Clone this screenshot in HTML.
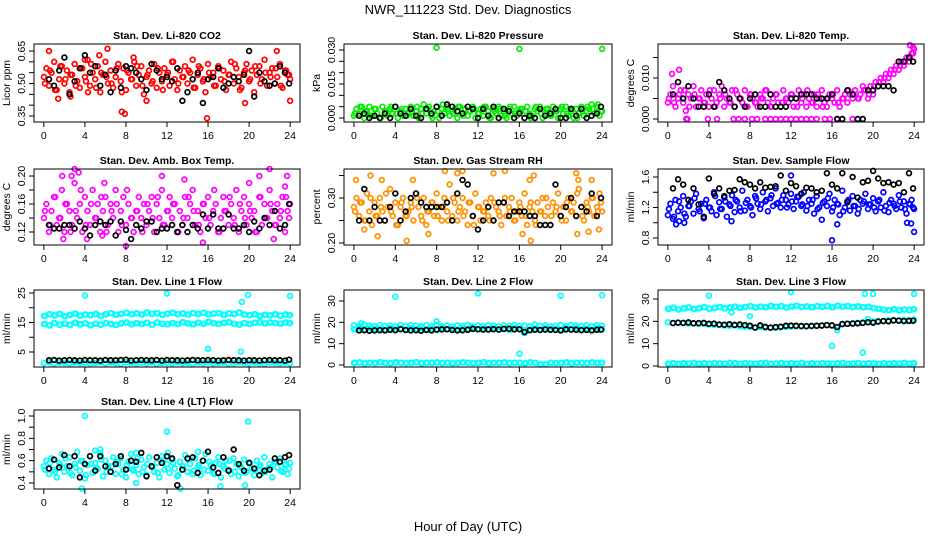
<!DOCTYPE html>
<html><head><meta charset="utf-8"><style>
body{margin:0;background:#fff}
svg{display:block;font-family:"Liberation Sans",sans-serif}
</style></head><body>
<svg id="chart" width="936" height="540" viewBox="0 0 936 540">
<rect width="936" height="540" fill="#fff"/>
<text x="468" y="14" text-anchor="middle" font-size="13">NWR_111223  Std. Dev. Diagnostics</text>
<text x="468" y="531" text-anchor="middle" font-size="13">Hour of Day (UTC)</text>
</svg>
<script>
const hoursCloud=[0,0.25,0.5,0.75,1,1.25,1.5,1.75,2,2.25,2.5,2.75,3,3.25,3.5,3.75,4,4.25,4.5,4.75,5,5.25,5.5,5.75,6,6.25,6.5,6.75,7,7.25,7.5,7.75,8,8.25,8.5,8.75,9,9.25,9.5,9.75,10,10.25,10.5,10.75,11,11.25,11.5,11.75,12,12.25,12.5,12.75,13,13.25,13.5,13.75,14,14.25,14.5,14.75,15,15.25,15.5,15.75,16,16.25,16.5,16.75,17,17.25,17.5,17.75,18,18.25,18.5,18.75,19,19.25,19.5,19.75,20,20.25,20.5,20.75,21,21.25,21.5,21.75,22,22.25,22.5,22.75,23,23.25,23.5,23.75,24];
const hoursBand=[0,0.5,1,1.5,2,2.5,3,3.5,4,4.5,5,5.5,6,6.5,7,7.5,8,8.5,9,9.5,10,10.5,11,11.5,12,12.5,13,13.5,14,14.5,15,15.5,16,16.5,17,17.5,18,18.5,19,19.5,20,20.5,21,21.5,22,22.5,23,23.5,24];
const hoursBand2=[0.1,0.6,1.1,1.6,2.1,2.6,3.1,3.6,4.1,4.6,5.1,5.6,6.1,6.6,7.1,7.6,8.1,8.6,9.1,9.6,10.1,10.6,11.1,11.6,12.1,12.6,13.1,13.6,14.1,14.6,15.1,15.6,16.1,16.6,17.1,17.6,18.1,18.6,19.1,19.6,20.1,20.6,21.1,21.6,22.1,22.6,23.1,23.6,23.9];
const hoursBlack=[0.5,1,1.5,2,2.5,3,3.5,4,4.5,5,5.5,6,6.5,7,7.5,8,8.5,9,9.5,10,10.5,11,11.5,12,12.5,13,13.5,14,14.5,15,15.5,16,16.5,17,17.5,18,18.5,19,19.5,20,20.5,21,21.5,22,22.5,23,23.5,23.9];

// Panel 1 CO2
const co2Red=[.53,.57,.49,.55,.60,.47,.52,.58,.50,.56,.46,.54,.59,.51,.48,.57,.53,.61,.49,.55,.52,.58,.46,.54,.60,.50,.56,.48,.53,.59,.51,.57,.47,.55,.52,.62,.49,.54,.58,.45,.53,.56,.50,.59,.48,.55,.51,.57,.54,.49,.60,.52,.47,.56,.53,.58,.50,.55,.61,.48,.54,.57,.51,.46,.59,.53,.55,.49,.58,.52,.56,.47,.54,.60,.50,.57,.53,.48,.55,.59,.51,.56,.46,.54,.58,.52,.61,.49,.55,.57,.50,.53,.59,.48,.56,.54,.52];
const co2Red2=[.50,.56,.47,.58,.52,.54,.49,.57,.51,.59,.48,.55,.53,.50,.57,.46,.56,.52,.58,.49,.54,.51,.57,.47,.55,.60,.50,.53,.56,.48,.58,.52,.55,.49,.57,.51,.54,.59,.47,.56,.52,.58,.50,.55,.53,.57,.49,.56,.54];
const co2OutX=[0.5,4,5.4,6.2,7.6,7.9,8.8,10,15.9,19.6,22.7,24,1.4,2.6,4.3];
const co2OutY=[.65,.61,.63,.66,.37,.36,.60,.42,.34,.41,.65,.42,.43,.44,.46];
const co2Black=[.52,.49,.56,.62,.45,.51,.57,.63,.55,.58,.49,.54,.46,.56,.48,.58,.57,.55,.52,.47,.59,.56,.52,.53,.51,.57,.42,.46,.52,.55,.41,.52,.53,.57,.48,.50,.53,.51,.54,.65,.44,.55,.51,.49,.50,.58,.55,.50];
// Panel 2 pressure
const presGreen=[.001,.004,.002,.005,.000,.003,.005,.001,.004,.002,.000,.005,.003,.001,.004,.002,.005,.000,.003,.001,.004,.002,.005,.001,.003,.000,.004,.006,.002,.005,.001,.003,.005,.000,.004,.002,.005,.001,.003,.004,.000,.005,.002,.004,.001,.003,.005,.000,.002,.004,.001,.005,.003,.000,.004,.002,.005,.001,.003,.000,.004,.002,.005,.001,.003,.004,.000,.005,.002,.001,.004,.003,.005,.000,.002,.004,.001,.005,.003,.000,.004,.002,.005,.001,.003,.000,.004,.002,.005,.001,.003,.004,.006,.002,.005,.001,.003];
const presGreen2=[.002,.005,.003,.001,.004,.000,.003,.005,.002,.004,.001,.003,.005,.002,.004,.000,.003,.006,.004,.002,.005,.001,.003,.004,.002,.005,.000,.003,.004,.001,.005,.002,.004,.003,.000,.005,.002,.004,.001,.003,.005,.002,.004,.000,.003,.005,.004,.006,.003];
const presOutX=[8,16,24];
const presOutY=[.031,.0305,.0305];
const presBlack=[.001,.002,.000,.001,.000,.002,.000,.005,.002,.001,.004,.001,.000,.004,.002,.005,.001,.006,.005,.003,.002,.005,.004,.000,.004,.001,.005,.000,.004,.003,.000,.002,.000,.001,.000,.004,.001,.002,.004,.000,.000,.004,.001,.004,.000,.001,.002,.005];
// Panel 3 Li-820 temp
const tempMag=[.004,.006,.008,.003,.005,.007,.004,.002,.006,.005,.008,.003,.005,.007,.004,.006,.003,.005,.007,.004,.006,.008,.003,.005,.004,.007,.003,.006,.005,.004,.007,.003,.006,.005,.004,.003,.006,.005,.007,.004,.003,.005,.006,.004,.003,.007,.005,.004,.006,.003,.005,.007,.004,.006,.003,.005,.004,.006,.003,.005,.007,.004,.003,.006,.005,.004,.007,.003,.005,.006,.004,.006,.005,.007,.005,.006,.008,.007,.005,.008,.006,.009,.008,.010,.009,.011,.010,.012,.011,.013,.012,.014,.013,.015,.014,.016,.017];
const tempMag2=[.005,.004,.006,.007,.003,.006,.005,.004,.007,.003,.005,.006,.004,.007,.005,.003,.006,.004,.005,.007,.003,.006,.004,.005,.006,.003,.005,.007,.004,.006,.003,.005,.006,.004,.005,.007,.006,.005,.007,.006,.008,.009,.010,.011,.012,.013,.014,.015,.016];
const tempZeroX=[1.8,1.9,3.9,4.8,6.4,6.9,7.5,8.2,8.7,9.5,10,10.5,11,11.5,12,12.5,13,13.5,14,14.5,15.3,15.8,16.5,17,18,18.5];
const tempZeroY=[0,0,0,0,0,0,0,0,0,0,0,0,0,0,0,0,0,0,0,0,0,0,0,0,0,0];
const tempOutX=[1.1,0.4,23.6,23.9];
const tempOutY=[.012,.011,.018,.0175];
const tempBlack=[.006,.009,.005,.008,.005,.003,.003,.006,.003,.009,.007,.005,.003,.005,.003,.005,.006,.003,.003,.006,.003,.003,.003,.005,.005,.006,.006,.006,.005,.005,.005,.006,.000,.000,.007,.006,.000,.000,.007,.007,.008,.008,.008,.007,.014,.014,.015,.014];
// Panel 4 amb box temp
const ambMag=[.14,.16,.12,.15,.17,.13,.14,.18,.12,.16,.15,.13,.19,.14,.16,.12,.17,.15,.13,.18,.14,.16,.12,.15,.17,.13,.16,.14,.18,.12,.15,.17,.13,.16,.14,.12,.15,.17,.14,.16,.13,.15,.17,.12,.16,.14,.18,.13,.15,.17,.14,.16,.12,.15,.13,.17,.14,.16,.18,.13,.15,.12,.16,.14,.17,.13,.15,.16,.12,.14,.17,.15,.13,.16,.14,.18,.12,.15,.17,.13,.16,.14,.15,.12,.17,.13,.16,.14,.18,.15,.13,.16,.14,.17,.12,.15,.16];
const ambMag2=[.15,.13,.17,.14,.16,.12,.15,.18,.13,.16,.14,.17,.12,.15,.16,.13,.18,.14,.15,.12,.16,.14,.17,.13,.15,.16,.12,.14,.17,.15,.13,.16,.14,.18,.12,.15,.17,.13,.16,.14,.15,.12,.17,.14,.16,.13,.15,.17,.14];
const ambOutX=[1.8,2.7,3.0,3.4,5.9,11.5,13.7,20,21,22,23.5,23.7,1.9,4.2,5.7,8,15.5,22.4];
const ambOutY=[.20,.20,.21,.205,.19,.20,.195,.19,.20,.21,.185,.20,.11,.11,.115,.10,.105,.11];
const ambBlack=[.13,.125,.125,.13,.13,.125,.135,.125,.115,.13,.135,.13,.135,.115,.135,.123,.11,.13,.125,.135,.135,.12,.125,.125,.13,.12,.13,.12,.13,.125,.145,.125,.145,.125,.125,.145,.125,.125,.13,.12,.135,.125,.14,.13,.15,.125,.13,.16];
// Panel 5 RH
const rhOrange=[.28,.30,.26,.29,.25,.31,.27,.24,.29,.26,.30,.27,.25,.28,.32,.26,.29,.24,.28,.30,.26,.27,.29,.25,.31,.28,.26,.30,.24,.27,.29,.26,.31,.28,.25,.30,.27,.33,.26,.29,.25,.28,.30,.27,.24,.29,.26,.31,.28,.25,.27,.29,.26,.30,.25,.28,.27,.24,.29,.26,.28,.30,.25,.27,.29,.26,.31,.24,.28,.27,.25,.29,.27,.30,.26,.28,.24,.29,.27,.31,.26,.28,.25,.30,.27,.29,.26,.32,.28,.25,.29,.27,.30,.26,.28,.31,.27];
const rhOrange2=[.27,.29,.25,.30,.26,.28,.31,.27,.24,.29,.26,.28,.30,.25,.27,.29,.26,.28,.25,.30,.27,.26,.29,.24,.28,.27,.25,.29,.26,.30,.27,.25,.28,.26,.29,.24,.27,.30,.26,.28,.25,.29,.27,.31,.26,.28,.30,.27,.29];
const rhOutX=[0.2,1.6,2.7,5.7,8.8,10,10.5,13.5,14.6,17,17.4,21.5,21.7,23,23.7,5.1,1,2.3,7.2,16.3,17.1,21.6,22.7];
const rhOutY=[.34,.35,.34,.34,.36,.355,.36,.355,.36,.34,.35,.355,.34,.34,.23,.205,.23,.215,.22,.22,.205,.22,.225];
const rhBlack=[.25,.32,.25,.28,.25,.25,.28,.31,.25,.27,.30,.31,.29,.28,.28,.28,.28,.29,.25,.31,.34,.33,.26,.23,.25,.28,.25,.29,.29,.26,.27,.27,.27,.26,.26,.24,.24,.24,.33,.26,.28,.30,.26,.28,.27,.31,.26,.30];
// Panel 6 sample flow
const flowBlue=[1.10,1.25,1.05,1.30,1.15,1.20,1.35,1.08,1.22,1.28,1.12,1.38,1.18,1.25,1.06,1.30,1.20,1.15,1.40,1.10,1.27,1.18,1.33,1.08,1.24,1.36,1.14,1.28,1.20,1.42,1.16,1.30,1.22,1.10,1.35,1.25,1.18,1.40,1.28,1.15,1.32,1.22,1.45,1.26,1.20,1.36,1.30,1.24,1.38,1.18,1.28,1.34,1.22,1.40,1.16,1.30,1.25,1.12,1.35,1.20,1.04,1.28,1.22,1.38,1.15,1.30,1.25,1.10,1.42,1.20,1.28,1.16,1.35,1.22,1.12,1.30,1.25,1.38,1.18,1.24,1.32,1.15,1.28,1.20,1.40,1.22,1.14,1.30,1.25,1.18,1.36,1.20,1.28,1.12,1.25,1.30,1.18];
const flowBlue2=[1.18,1.08,1.28,1.12,1.22,1.32,1.15,1.25,1.20,1.35,1.18,1.28,1.22,1.30,1.15,1.26,1.20,1.32,1.24,1.30,1.36,1.25,1.30,1.20,1.28,1.34,1.24,1.22,1.30,1.18,1.26,1.32,1.20,1.24,1.15,1.30,1.22,1.18,1.28,1.24,1.20,1.30,1.16,1.26,1.22,1.28,1.18,1.24,1.20];
const flowOutX=[0.8,1.1,12,16,16.5,23.3,23.7,24,1.6,6.2];
const flowOutY=[0.98,1.02,1.62,0.77,0.98,1.0,0.99,0.88,1.0,1.02];
const flowBlack=[1.45,1.57,1.50,1.30,1.45,1.24,1.08,1.58,1.38,1.45,1.35,1.42,1.43,1.57,1.53,1.50,1.45,1.53,1.46,1.47,1.48,1.62,1.42,1.52,1.48,1.38,1.46,1.45,1.40,1.42,1.65,1.50,1.45,1.65,1.27,1.60,1.33,1.53,1.55,1.68,1.58,1.52,1.53,1.50,1.52,1.40,1.65,1.45];
// Panel 7 line 1
const l1Upper=[17.2,17.8,17.4,17.9,17.1,17.6,18.0,17.3,17.7,17.5,17.9,17.2,17.8,18.2,17.6,17.9,18.3,17.8,18.1,17.7,18.4,17.9,18.2,17.6,18.0,18.3,17.8,18.1,17.7,18.2,17.9,18.3,17.8,18.0,18.2,17.6,18.1,17.9,18.4,17.7,17.5,17.8,17.2,17.6,17.4,17.8,17.3,17.7,17.5];
const l1Lower=[14.5,14.0,14.8,14.3,14.6,14.2,14.9,14.4,14.7,14.1,14.6,14.3,14.8,14.5,14.2,14.7,15.0,14.4,14.8,14.5,14.9,14.3,15.0,14.6,14.4,14.8,14.5,15.1,14.7,14.4,14.9,14.6,15.2,14.8,14.5,14.9,15.1,14.6,14.3,14.8,14.5,14.9,15.1,14.7,15.0,14.8,14.6,15.0,14.8];
const l1Base=[1.2,1.5,1.0,1.4,1.3,1.1,1.5,1.2,1.4,1.0,1.3,1.5,1.1,1.4,1.2,1.0,1.5,1.3,1.1,1.4,1.2,1.5,1.0,1.3,1.4,1.1,1.5,1.2,1.3,1.0,1.4,1.2,1.5,1.1,1.3,1.4,1.0,1.2,1.5,1.3,1.1,1.4,1.2,1.0,1.5,1.3,1.1,1.4,1.2];
const l1OutX=[4,12,19.9,24,16,19.2,19.3];
const l1OutY=[24.2,24.8,24.3,24.0,6.1,5.1,22];
const l1Black=[2.2,2.3,2.1,2.2,2.3,2.2,2.1,2.3,2.2,2.2,2.1,2.3,2.2,2.2,2.3,2.4,2.1,2.2,2.3,2.2,2.2,2.3,2.1,2.3,2.2,2.2,2.1,2.2,2.3,2.2,2.2,2.3,2.2,2.1,2.2,2.3,2.2,2.2,2.1,2.2,2.2,2.1,2.2,2.3,2.2,2.2,2.1,2.4];
// Panel 8 line 2
const l2High=[18.6,18.2,19.0,18.4,18.1,18.7,18.3,18.5,18.0,18.8,18.2,18.6,18.4,18.1,18.7,18.3,18.9,18.2,18.5,18.0,18.6,18.3,18.8,18.1,18.5,18.2,18.7,18.4,18.0,18.6,18.3,18.8,18.2,18.5,18.1,18.9,18.3,18.6,18.0,18.4,18.7,18.2,18.8,18.5,18.3,18.6,18.1,18.7,18.4];
const l2Low=[16.8,17.2,16.5,17.4,16.9,17.1,16.6,17.3,16.8,17.0,16.5,17.2,16.9,17.4,16.7,17.1,16.6,17.3,16.8,17.0,16.5,17.2,16.9,17.4,16.7,17.1,16.6,17.3,16.8,17.0,16.5,17.2,16.9,16.0,16.7,17.1,16.6,17.3,16.8,17.0,16.5,17.2,16.9,17.4,16.7,17.1,16.6,17.3,16.8];
const l2Base=[1.0,1.2,0.8,1.1,0.9,1.3,1.0,0.8,1.2,1.1,0.9,1.0,1.3,0.8,1.1,1.0,1.2,0.9,1.1,0.8,1.0,1.2,1.1,0.9,1.0,1.3,0.8,1.1,1.0,1.2,0.9,1.1,1.0,0.8,1.2,1.0,0.3,0.3,1.1,0.9,1.0,1.2,0.8,1.1,1.0,0.9,1.2,1.0,1.1];
const l2OutX=[4,12,20,24,8,0.7,16,16.5,17.5];
const l2OutY=[32,33.5,32.5,32.7,20.5,19.5,5.3,15,19];
const l2Black=[16.2,16.3,16.1,16.2,16.3,16.2,16.5,16.3,16.8,16.4,16.2,16.3,16.1,16.4,16.2,16.6,16.7,16.8,16.4,16.2,16.3,16.5,16.9,16.8,16.6,16.7,16.8,16.6,16.9,17.0,16.7,16.8,15.4,16.3,16.5,16.4,16.6,16.5,16.4,16.2,16.7,16.6,16.5,16.3,16.4,16.2,16.5,16.6];
// Panel 9 line 3
const l3High=[25.6,26.1,25.3,25.8,26.2,25.5,25.9,26.3,25.7,26.0,26.4,25.8,26.2,26.6,26.0,26.4,26.8,26.2,26.6,26.3,26.9,26.5,26.8,26.2,26.6,27.0,26.4,26.7,26.3,26.8,26.5,26.9,26.3,27.0,26.6,26.8,26.4,26.7,26.3,26.5,25.9,25.6,25.2,25.0,25.4,24.9,25.3,25.1,25.4];
const l3Mid=[19.6,19.3,19.5,19.2,19.0,19.1,18.8,18.9,18.6,18.4,18.3,18.1,18.0,18.2,17.8,17.6,17.5,17.3,17.4,17.2,17.1,17.0,17.3,17.5,17.6,17.8,17.7,17.9,18.1,18.0,18.2,18.3,18.1,17.5,18.6,19.0,19.2,19.4,19.5,19.7,19.9,20.1,20.3,20.4,20.6,20.5,20.7,20.6,20.8];
const l3Base=[1.0,1.3,0.9,1.2,1.1,1.4,1.0,1.2,0.9,1.3,1.1,1.0,1.4,1.2,0.9,1.3,1.1,1.0,1.2,1.4,0.9,1.1,1.3,1.0,1.2,1.1,1.4,0.9,1.2,1.0,1.3,1.1,1.0,1.2,1.4,0.9,1.1,1.3,1.0,1.2,1.1,0.9,1.3,1.0,1.2,1.1,1.4,1.0,1.2];
const l3OutX=[4,8,12,16,16.5,19,19.2,19.5,20,24,6.2];
const l3OutY=[31.5,22.3,33,9,16,6,32.3,21,32.3,32.3,24];
const l3Black=[19.2,19.4,19.3,19.5,19.1,19.2,19.3,18.9,19.0,18.6,18.5,18.7,18.4,18.6,18.3,18.0,17.2,18.2,17.5,17.2,17.4,17.6,18.0,18.1,18.0,17.9,17.8,17.9,18.0,18.1,18.3,18.2,17.4,18.8,18.9,19.0,19.1,19.3,19.6,19.4,19.9,20.1,20.0,20.4,20.3,20.1,20.2,20.3];
// Panel 10 line 4
const l4Cyan=[.55,.60,.48,.62,.52,.45,.58,.66,.50,.55,.63,.47,.57,.68,.51,.60,.44,.56,.64,.49,.58,.53,.67,.46,.60,.55,.50,.63,.48,.57,.62,.52,.45,.59,.66,.51,.56,.48,.61,.54,.47,.63,.55,.50,.58,.45,.64,.52,.57,.49,.61,.53,.46,.59,.55,.65,.50,.57,.48,.62,.54,.47,.60,.66,.51,.56,.49,.58,.63,.45,.55,.60,.52,.48,.62,.57,.46,.54,.61,.50,.58,.53,.47,.60,.55,.49,.63,.52,.57,.45,.59,.54,.62,.50,.56,.48,.58];
const l4Cyan2=[.52,.58,.50,.56,.62,.49,.54,.60,.47,.57,.53,.61,.50,.55,.59,.48,.56,.52,.62,.50,.57,.54,.49,.60,.53,.58,.47,.55,.61,.51,.56,.52,.59,.48,.57,.53,.60,.50,.55,.49,.58,.52,.56,.50,.54,.59,.51,.57,.53];
const l4OutX=[4,12,19.9,13.3,3.7,17.2,19.6,9,5,5.5,9,15,12.1];
const l4OutY=[1.0,.86,.95,.35,.35,.37,.38,.40,.69,.70,.67,.68,.67];
const l4Black=[.53,.61,.54,.65,.55,.64,.45,.57,.64,.51,.64,.55,.50,.57,.64,.52,.60,.59,.67,.46,.55,.63,.58,.64,.62,.38,.52,.62,.63,.49,.60,.68,.54,.49,.63,.51,.70,.57,.51,.58,.53,.47,.51,.52,.62,.59,.63,.65];

const svg=document.getElementById('chart');
const NS='http://www.w3.org/2000/svg';
function el(tag,attrs,parent){const e=document.createElementNS(NS,tag);for(const k in attrs)e.setAttribute(k,attrs[k]);(parent||svg).appendChild(e);return e;}

const cols=[{l:34,r:300},{l:344,r:612},{l:658,r:924}];
const rows=[{t:44,b:122},{t:169,b:245},{t:290,b:367},{t:410,b:489}];

const panels=[
 {id:'co2',title:'Stan. Dev. Li-820 CO2',ylab:'Licor ppm',c:0,r:0,cal:[0.65,51,0.35,116],ticks:[.35,.40,.45,.50,.55,.60,.65],labels:[[.35,'0.35'],[.50,'0.50'],[.65,'0.65']],
  series:[{x:hoursCloud,y:co2Red,col:'#ff0000'},{x:hoursBand2,y:co2Red2,col:'#ff0000'},{x:co2OutX,y:co2OutY,col:'#ff0000'},{x:hoursBlack,y:co2Black,col:'#000'}]},
 {id:'pressure',title:'Stan. Dev. Li-820 Pressure',ylab:'kPa',c:1,r:0,cal:[0.030,50,0,118],ticks:[0,.005,.010,.015,.020,.025,.030],labels:[[0,'0.000'],[.015,'0.015'],[.030,'0.030']],
  series:[{x:hoursCloud,y:presGreen,col:'#00ee00'},{x:hoursBand2,y:presGreen2,col:'#00ee00'},{x:presOutX,y:presOutY,col:'#00ee00'},{x:hoursBlack,y:presBlack,col:'#000'}]},
 {id:'licor-temp',title:'Stan. Dev. Li-820 Temp.',ylab:'degrees C',c:2,r:0,cal:[0.010,78,0,119],ticks:[0,.005,.010,.015],labels:[[0,'0.000'],[.010,'0.010']],
  series:[{x:hoursCloud,y:tempMag,col:'#ff00ff'},{x:hoursBand2,y:tempMag2,col:'#ff00ff'},{x:tempZeroX,y:tempZeroY,col:'#ff00ff'},{x:tempOutX,y:tempOutY,col:'#ff00ff'},{x:hoursBlack,y:tempBlack,col:'#000'}]},
 {id:'amb-temp',title:'Stan. Dev. Amb. Box Temp.',ylab:'degrees C',c:0,r:1,cal:[0.20,176,0.12,232],ticks:[.12,.14,.16,.18,.20],labels:[[.12,'0.12'],[.16,'0.16'],[.20,'0.20']],
  series:[{x:hoursCloud,y:ambMag,col:'#ff00ff'},{x:hoursBand2,y:ambMag2,col:'#ff00ff'},{x:ambOutX,y:ambOutY,col:'#ff00ff'},{x:hoursBlack,y:ambBlack,col:'#000'}]},
 {id:'rh',title:'Stan. Dev. Gas Stream RH',ylab:'percent',c:1,r:1,cal:[0.30,198,0.20,243],ticks:[.20,.25,.30,.35],labels:[[.20,'0.20'],[.30,'0.30']],
  series:[{x:hoursCloud,y:rhOrange,col:'#ff9000'},{x:hoursBand2,y:rhOrange2,col:'#ff9000'},{x:rhOutX,y:rhOutY,col:'#ff9000'},{x:hoursBlack,y:rhBlack,col:'#000'}]},
 {id:'sample-flow',title:'Stan. Dev. Sample Flow',ylab:'ml/min',c:2,r:1,cal:[1.6,177,0.8,238],ticks:[.8,1.0,1.2,1.4,1.6],labels:[[.8,'0.8'],[1.2,'1.2'],[1.6,'1.6']],
  series:[{x:hoursCloud,y:flowBlue,col:'#0000ff'},{x:hoursBand2,y:flowBlue2,col:'#0000ff'},{x:flowOutX,y:flowOutY,col:'#0000ff'},{x:hoursBlack,y:flowBlack,col:'#000'}]},
 {id:'line1',title:'Stan. Dev. Line 1 Flow',ylab:'ml/min',c:0,r:2,cal:[25,293,5,352],ticks:[5,10,15,20,25],labels:[[5,'5'],[15,'15'],[25,'25']],
  series:[{x:hoursBand,y:l1Upper,col:'#00ffff'},{x:hoursBand2,y:l1Upper,col:'#00ffff'},{x:hoursBand,y:l1Lower,col:'#00ffff'},{x:hoursBand2,y:l1Lower,col:'#00ffff'},{x:hoursBand,y:l1Base,col:'#00ffff'},{x:l1OutX,y:l1OutY,col:'#00ffff'},{x:hoursBlack,y:l1Black,col:'#000'}]},
 {id:'line2',title:'Stan. Dev. Line 2 Flow',ylab:'ml/min',c:1,r:2,cal:[30,301,0,365],ticks:[0,10,20,30],labels:[[0,'0'],[10,'10'],[20,'20'],[30,'30']],
  series:[{x:hoursBand,y:l2High,col:'#00ffff'},{x:hoursBand2,y:l2Low,col:'#00ffff'},{x:hoursBand,y:l2Low,col:'#00ffff'},{x:hoursBand,y:l2Base,col:'#00ffff'},{x:hoursBand2,y:l2Base,col:'#00ffff'},{x:l2OutX,y:l2OutY,col:'#00ffff'},{x:hoursBlack,y:l2Black,col:'#000'}]},
 {id:'line3',title:'Stan. Dev. Line 3 Flow',ylab:'ml/min',c:2,r:2,cal:[30,299,0,366],ticks:[0,10,20,30],labels:[[0,'0'],[10,'10'],[20,'20'],[30,'30']],
  series:[{x:hoursBand,y:l3High,col:'#00ffff'},{x:hoursBand2,y:l3High,col:'#00ffff'},{x:hoursBand,y:l3Mid,col:'#00ffff'},{x:hoursBand,y:l3Base,col:'#00ffff'},{x:hoursBand2,y:l3Base,col:'#00ffff'},{x:l3OutX,y:l3OutY,col:'#00ffff'},{x:hoursBlack,y:l3Black,col:'#000'}]},
 {id:'line4',title:'Stan. Dev. Line 4 (LT) Flow',ylab:'ml/min',c:0,r:3,cal:[1.0,416,0.4,483],ticks:[.4,.5,.6,.7,.8,.9,1.0],labels:[[.4,'0.4'],[.6,'0.6'],[.8,'0.8'],[1.0,'1.0']],
  series:[{x:hoursCloud,y:l4Cyan,col:'#00ffff'},{x:hoursBand2,y:l4Cyan2,col:'#00ffff'},{x:l4OutX,y:l4OutY,col:'#00ffff'},{x:hoursBlack,y:l4Black,col:'#000'}]}
];
const xTicks=[0,4,8,12,16,20,24];

panels.forEach(p=>{
 const b={l:cols[p.c].l,r:cols[p.c].r,t:rows[p.r].t,b:rows[p.r].b};
 const sx=(b.r-b.l)/25.92;
 const xf=v=>b.l+(v+0.96)*sx;
 const [v1,p1,v2,p2]=p.cal;
 const yf=v=>p1+(v-v1)*(p2-p1)/(v2-v1);
 const g=el('g',{});
 
 
 const t=el('text',{x:(b.l+b.r)/2,y:b.t-5,'text-anchor':'middle','font-size':'10.5','font-weight':'bold'},g);
 t.textContent=p.title;
 
 
 const pts=el('g',{fill:'none','stroke-width':'1.7'},g);
 
 
 p.series.forEach(s=>{
  const n=Math.min(s.x.length,s.y.length);
  for(let i=0;i<n;i++){
   const c=el('circle',{cx:xf(s.x[i]).toFixed(1),cy:yf(s.y[i]).toFixed(1),r:'2.4',stroke:s.col},pts);
   
   
  }
 });
 const box=el('rect',{x:b.l,y:b.t,width:b.r-b.l,height:b.b-b.t,fill:'none',stroke:'#000','stroke-width':'1'},g);
 
 
 const xa=el('g',{},g);
 
 
 el('line',{x1:xf(0),x2:xf(24),y1:b.b,y2:b.b,stroke:'#000'},xa);
 xTicks.forEach(v=>{
  el('line',{x1:xf(v),x2:xf(v),y1:b.b,y2:b.b+5,stroke:'#000'},xa);
  const tl=el('text',{x:xf(v),y:b.b+17,'text-anchor':'middle','font-size':'10.5'},xa);
  tl.textContent=v;
  
  
 });
 const ya=el('g',{},g);
 
 
 const tk=p.ticks;
 el('line',{x1:b.l,x2:b.l,y1:yf(tk[0]),y2:yf(tk[tk.length-1]),stroke:'#000'},ya);
 tk.forEach(v=>{el('line',{x1:b.l-5,x2:b.l,y1:yf(v),y2:yf(v),stroke:'#000'},ya);});
 p.labels.forEach(([v,s])=>{
  const yl=el('text',{x:0,y:0,'text-anchor':'middle','font-size':'10.5',transform:`translate(${b.l-9},${yf(v)}) rotate(-90)`},ya);
  yl.textContent=s;
  
  
 });
 const yt=el('text',{x:0,y:0,'text-anchor':'middle','font-size':'10.5',transform:`translate(${b.l-24},${(b.t+b.b)/2}) rotate(-90)`},g);
 yt.textContent=p.ylab;
 
 
});
</script>
</body></html>
